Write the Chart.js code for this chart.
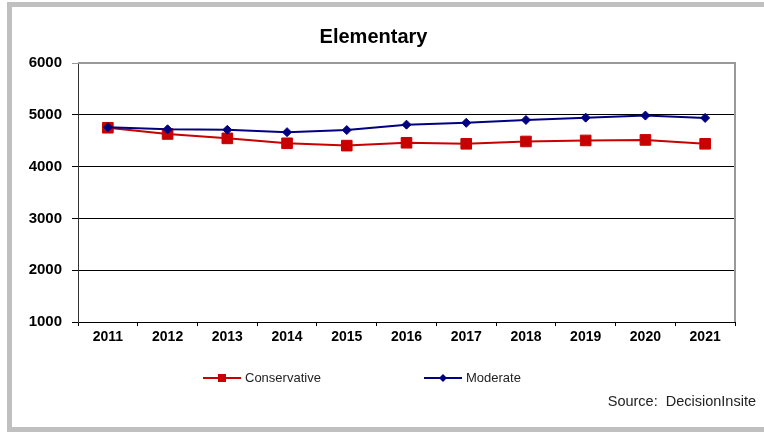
<!DOCTYPE html>
<html>
<head>
<meta charset="utf-8">
<script src="https://cdn.jsdelivr.net/npm/chart.js@4"></script>
<style>
  html, body { margin: 0; padding: 0; background: #fff; }
  #wrap { width: 764px; height: 432px; }
</style>
</head>
<body>
<div id="wrap"><canvas id="myChart" width="764" height="432"></canvas></div>
<script>
var years = ["2011", "2012", "2013", "2014", "2015", "2016", "2017", "2018", "2019", "2020", "2021"];
var conservative = [4750, 4630, 4545, 4450, 4405, 4460, 4440, 4485, 4505, 4515, 4440];
var moderate = [4760, 4720, 4710, 4665, 4705, 4810, 4845, 4900, 4945, 4985, 4940];
var yTicks = [1000, 2000, 3000, 4000, 5000, 6000];

// grey frame, plot border and the source note
var framePlugin = {
  id: "frame",
  beforeDraw: function(chart) {
    var c = chart.ctx;
    c.save();
    c.fillStyle = "#fff";
    c.fillRect(0, 0, chart.width, chart.height);
    c.fillStyle = "#c0c0c0";
    c.fillRect(7, 2, chart.width - 7, 5);
    c.fillRect(7, 2, 5, 425);
    c.fillRect(7, 427, chart.width - 7, 5);
    c.restore();
  },
  afterDatasetsDraw: function(chart) {
    var a = chart.chartArea;
    var c = chart.ctx;
    c.save();
    c.strokeStyle = "#999";
    c.lineWidth = 2;
    c.beginPath();
    c.moveTo(a.left, a.top);
    c.lineTo(a.right, a.top);
    c.lineTo(a.right, a.bottom);
    c.stroke();
    c.fillStyle = "#222";
    c.font = "14.5px 'Liberation Sans', Arial, sans-serif";
    c.textAlign = "right";
    c.textBaseline = "middle";
    c.fillText("Source:  DecisionInsite", 756, 402);
    c.restore();
  }
};

// legend with line + marker, like the original
var legendPlugin = {
  id: "lineLegend",
  afterDraw: function(chart, args, opts) {
    var c = chart.ctx;
    c.save();
    chart.data.datasets.forEach(function(ds, i) {
      var x = opts.xs[i], y = opts.y;
      c.strokeStyle = ds.borderColor;
      c.lineWidth = 2;
      c.beginPath();
      c.moveTo(x, y);
      c.lineTo(x + 38, y);
      c.stroke();
      c.fillStyle = ds.borderColor;
      c.beginPath();
      if (ds.pointStyle === "rect") {
        c.rect(x + 19 - 4, y - 4, 8, 8);
      } else {
        c.moveTo(x + 19, y - 4);
        c.lineTo(x + 23, y);
        c.lineTo(x + 19, y + 4);
        c.lineTo(x + 15, y);
        c.closePath();
      }
      c.fill();
      c.fillStyle = "#222";
      c.font = "13px 'Liberation Sans', Arial, sans-serif";
      c.textAlign = "left";
      c.textBaseline = "middle";
      c.fillText(ds.label, x + 42, y);
    });
    c.restore();
  }
};

var ctx = document.getElementById("myChart").getContext("2d");
new Chart(ctx, {
  type: "line",
  data: {
    labels: years,
    datasets: [
      {
        label: "Conservative",
        data: conservative,
        borderColor: "#c80000",
        backgroundColor: "#c80000",
        borderWidth: 2,
        pointStyle: "rect",
        pointRadius: 7.5,
        pointBorderWidth: 1,
        tension: 0,
        order: 1
      },
      {
        label: "Moderate",
        data: moderate,
        borderColor: "#000080",
        backgroundColor: "#000080",
        borderWidth: 2,
        pointStyle: "rectRot",
        pointRadius: 4.5,
        pointBorderWidth: 1,
        tension: 0,
        order: 0
      }
    ]
  },
  options: {
    responsive: false,
    animation: false,
    layout: { padding: { left: 12, right: 29, top: 0, bottom: 80 } },
    plugins: {
      legend: { display: false },
      tooltip: { enabled: false },
      title: {
        display: true,
        text: "Elementary",
        color: "#000",
        font: { family: "'Liberation Sans', Arial, sans-serif", size: 20, weight: "bold" },
        padding: { top: 25, bottom: 14 }
      },
      lineLegend: { xs: [203, 424], y: 378 }
    },
    scales: {
      x: {
        offset: true,
        grid: { display: true, drawOnChartArea: false, drawTicks: true, tickLength: 4, color: "#000", offset: true },
        border: { color: "#000", width: 1 },
        ticks: {
          color: "#000",
          padding: 3,
          maxRotation: 0,
          font: { family: "'Liberation Sans', Arial, sans-serif", size: 14, weight: "bold" }
        },
        afterFit: function(scale) { scale.height = 30; }
      },
      y: {
        min: 1000,
        max: 6000,
        afterBuildTicks: function(scale) {
          scale.ticks = yTicks.map(function(v) { return { value: v }; });
        },
        grid: {
          tickLength: 6,
          color: function(c) { return c.tick && c.tick.value === 6000 ? "#999" : "#000"; }
        },
        border: { color: "#333", width: 1 },
        ticks: {
          color: "#000",
          padding: 10,
          callback: function(v) { return String(v); },
          font: { family: "'Liberation Sans', Arial, sans-serif", size: 15, weight: "bold" }
        },
        afterFit: function(scale) { scale.width = 66; }
      }
    }
  },
  plugins: [framePlugin, legendPlugin]
});
</script>
</body>
</html>
